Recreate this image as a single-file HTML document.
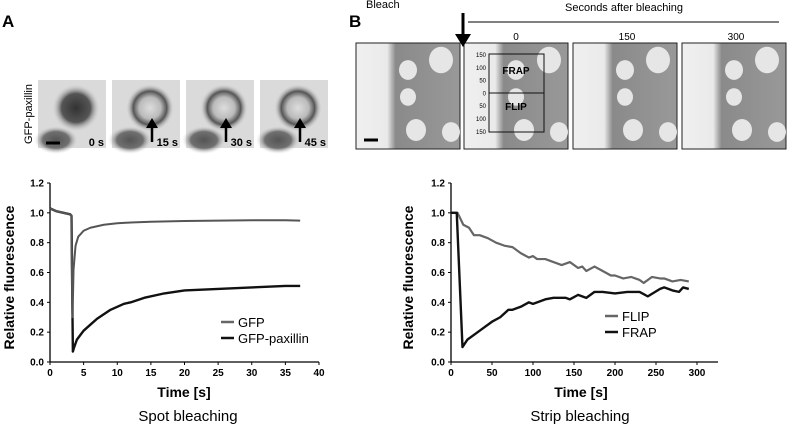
<!DOCTYPE html>
<html><head><meta charset="utf-8"><style>
body{margin:0;background:#fff;width:787px;height:426px;overflow:hidden;font-family:"Liberation Sans",Arial,sans-serif}
svg text{font-family:"Liberation Sans",Arial,sans-serif}
</style></head><body>
<svg id="fig" width="787" height="426" viewBox="0 0 787 426">
<defs>
<radialGradient id="blob"><stop offset="0" stop-color="#333"/><stop offset="0.6" stop-color="#555"/><stop offset="1" stop-color="#d8d8d8" stop-opacity="0"/></radialGradient>
<radialGradient id="ring"><stop offset="0" stop-color="#ddd"/><stop offset="0.45" stop-color="#bbb"/><stop offset="0.7" stop-color="#555"/><stop offset="1" stop-color="#d8d8d8" stop-opacity="0"/></radialGradient>
<linearGradient id="cell" x1="0" x2="1"><stop offset="0" stop-color="#f0f0f0"/><stop offset="0.3" stop-color="#eaeaea"/><stop offset="0.38" stop-color="#8a8a8a"/><stop offset="1" stop-color="#999"/></linearGradient>
</defs>
<text x="2" y="27" font-size="17" font-weight="bold">A</text>
<text x="349" y="27" font-size="17" font-weight="bold">B</text>
<text transform="translate(32,114) rotate(-90)" text-anchor="middle" font-size="11">GFP-paxillin</text>
<g id="spotImgs"></g>
<g id="stripImgs"></g>
<text x="366" y="8" font-size="11">Bleach</text>
<line x1="463" y1="13" x2="463" y2="36" stroke="#000" stroke-width="3"/>
<polygon points="455,34 471,34 463,47" fill="#000"/>
<text x="565" y="11" font-size="11">Seconds after bleaching</text>
<line x1="468" y1="22" x2="779" y2="22" stroke="#000" stroke-width="1"/>
<text x="516" y="40" font-size="10" text-anchor="middle">0</text>
<text x="627" y="40" font-size="10" text-anchor="middle">150</text>
<text x="736" y="40" font-size="10" text-anchor="middle">300</text>
<g id="chartA"></g>
<g id="chartB"></g>
</svg>
<script>
const spotTimes=[0,0.5,1,2,3,3.2,3.3,3.35,3.5,3.8,4.2,5,6,7,8,10,12,15,20,25,30,35,37.2];
const gfpValues=[1.03,1.02,1.01,1.0,0.99,0.98,0.4,0.3,0.62,0.78,0.84,0.88,0.9,0.91,0.92,0.93,0.935,0.94,0.945,0.948,0.95,0.95,0.948];
const paxTimes=[0,0.5,1,2,3,3.2,3.3,3.4,3.6,4,4.5,5,6,7,8,9,10,11,12,14,17,20,25,30,35,37.2];
const paxValues=[1.03,1.02,1.01,1.0,0.99,0.98,0.5,0.07,0.1,0.15,0.18,0.21,0.25,0.29,0.32,0.35,0.37,0.39,0.4,0.43,0.46,0.48,0.49,0.5,0.51,0.51];
const stripFlipT=[0,8,15,22,28,35,45,55,65,75,85,95,100,105,115,125,135,145,155,160,165,175,185,195,200,210,220,230,235,245,255,260,270,280,290];
const stripFlipV=[1.0,1.0,0.92,0.9,0.85,0.85,0.83,0.8,0.78,0.77,0.73,0.7,0.71,0.69,0.69,0.67,0.65,0.67,0.63,0.64,0.61,0.64,0.61,0.58,0.58,0.56,0.57,0.55,0.53,0.57,0.56,0.56,0.54,0.55,0.54];
const stripFrapT=[0,7,14,20,30,40,50,60,70,75,85,95,100,110,115,125,140,145,155,165,175,185,200,215,230,240,255,260,270,278,283,290];
const stripFrapV=[1.0,1.0,0.1,0.15,0.19,0.23,0.27,0.3,0.35,0.35,0.37,0.4,0.39,0.41,0.42,0.43,0.43,0.42,0.45,0.43,0.47,0.47,0.46,0.47,0.47,0.44,0.49,0.5,0.48,0.47,0.5,0.49];
const yTicks=[0,0.2,0.4,0.6,0.8,1.0,1.2];
const xTicksA=[0,5,10,15,20,25,30,35,40];
const xTicksB=[0,50,100,150,200,250,300];
const NS='http://www.w3.org/2000/svg';
function mk(p,tag,at){const e=document.createElementNS(NS,tag);for(const k in at)e.setAttribute(k,at[k]);p.appendChild(e);return e;}
function chart(g,x0,x1,xmax,xAxisEnd,xTicks,series,legend,title,sub,yTitleX,legX,legY){
  const y0=362,y1=183;
  const sx=v=>x0+(x1-x0)*v/xmax, sy=v=>y0+(y1-y0)*v/1.2;
  mk(g,'line',{x1:x0,y1:y0,x2:x0,y2:y1,stroke:'#000','stroke-width':1.3});
  mk(g,'line',{x1:x0,y1:y0,x2:xAxisEnd,y2:y0,stroke:'#000','stroke-width':1.3});
  yTicks.forEach(t=>{mk(g,'line',{x1:x0-3,x2:x0,y1:sy(t),y2:sy(t),stroke:'#000'});
    const tx=mk(g,'text',{x:x0-6,y:sy(t)+3.5,'font-size':10,'font-weight':'bold','text-anchor':'end'});tx.textContent=t.toFixed(1);
    
    });
  xTicks.forEach(t=>{mk(g,'line',{x1:sx(t),x2:sx(t),y1:y0,y2:y0+3,stroke:'#000'});
    const tx=mk(g,'text',{x:sx(t),y:y0+14,'font-size':10,'font-weight':'bold','text-anchor':'middle'});tx.textContent=t;
    
    });
  series.forEach(s=>{const p=mk(g,'polyline',{points:s.t.map((t,i)=>sx(t)+','+sy(s.v[i])).join(' '),fill:'none',stroke:s.c,'stroke-width':s.w,'stroke-linejoin':'round'});
    
    });
  legend.forEach((l,i)=>{mk(g,'line',{x1:legX,x2:legX+13,y1:legY+i*16,y2:legY+i*16,stroke:l.c,'stroke-width':2.5});
    const tx=mk(g,'text',{x:legX+17,y:legY+i*16+5,'font-size':13});tx.textContent=l.n;
    
    });
  const yt=mk(g,'text',{transform:`translate(${yTitleX},${(y0+y1)/2+5}) rotate(-90)`,'font-size':14,'font-weight':'bold','text-anchor':'middle'});yt.textContent='Relative fluorescence';
  
  
  const xt=mk(g,'text',{x:title[1],y:397,'font-size':14,'font-weight':'bold','text-anchor':'middle'});xt.textContent=title[0];
  
  
  const st=mk(g,'text',{x:sub[1],y:421,'font-size':15,'text-anchor':'middle'});st.textContent=sub[0];
  
  
}
chart(document.getElementById('chartA'),50,319,40,319,xTicksA,
 [{t:paxTimes,v:paxValues,c:'#111',w:2.4,n:'gfp-paxillin-line'},{t:spotTimes,v:gfpValues,c:'#555',w:2,n:'gfp-line'}],
 [{n:'GFP',c:'#666'},{n:'GFP-paxillin',c:'#111'}],['Time [s]',184],['Spot bleaching',188],14,221,322);
chart(document.getElementById('chartB'),451,697,300,718,xTicksB,
 [{t:stripFlipT,v:stripFlipV,c:'#666',w:2.2,n:'flip-line'},{t:stripFrapT,v:stripFrapV,c:'#111',w:2.4,n:'frap-line'}],
 [{n:'FLIP',c:'#666'},{n:'FRAP',c:'#111'}],['Time  [s]',581],['Strip bleaching',580],413,605,316);
const si=document.getElementById('spotImgs');
[38,112,186,260].forEach((x,i)=>{
  mk(si,'rect',{x:x,y:80,width:68,height:68,fill:'#dadada'});
  mk(si,'ellipse',{cx:x+38,cy:108,rx:24,ry:24,fill:i==0?'url(#blob)':'url(#ring)'});
  mk(si,'ellipse',{cx:x+18,cy:140,rx:22,ry:14,fill:'url(#blob)',opacity:0.8});
  if(i>0){mk(si,'line',{x1:x+40,y1:142,x2:x+40,y2:126,stroke:'#000','stroke-width':2.5});mk(si,'polygon',{points:`${x+34},${128} ${x+46},${128} ${x+40},${118}`,fill:'#000'});}
  else mk(si,'line',{x1:x+8,y1:143,x2:x+22,y2:143,stroke:'#000','stroke-width':3});
  const t=mk(si,'text',{x:x+66,y:146,'font-size':11,'font-weight':'bold','text-anchor':'end'});t.textContent=['0 s','15 s','30 s','45 s'][i];
});
const ri=document.getElementById('stripImgs');
[356,464,573,682].forEach((x,i)=>{
  mk(ri,'rect',{x:x,y:43,width:104,height:106,fill:'url(#cell)',stroke:'#222','stroke-width':1});
  [[x+52,70,9],[x+52,97,8],[x+60,130,10],[x+95,132,9],[x+85,60,12]].forEach(c=>mk(ri,'ellipse',{cx:c[0],cy:c[1],rx:c[2],ry:c[2]*1.1,fill:'#e6e6e6'}));
  if(i==0)mk(ri,'line',{x1:x+8,y1:140,x2:x+22,y2:140,stroke:'#000','stroke-width':3});
});
mk(ri,'rect',{x:489,y:54,width:55,height:78,fill:'none',stroke:'#111'});
mk(ri,'line',{x1:489,y1:93,x2:544,y2:93,stroke:'#111'});
const fr=mk(ri,'text',{x:516,y:74,'font-size':10,'font-weight':'bold','text-anchor':'middle'});fr.textContent='FRAP';
const fl=mk(ri,'text',{x:516,y:110,'font-size':10,'font-weight':'bold','text-anchor':'middle'});fl.textContent='FLIP';
['150','100','50','0','50','100','150'].forEach((s,i)=>{const t=mk(ri,'text',{x:486,y:57+i*12.8,'font-size':6,'text-anchor':'end'});t.textContent=s;});
</script>
</body></html>
